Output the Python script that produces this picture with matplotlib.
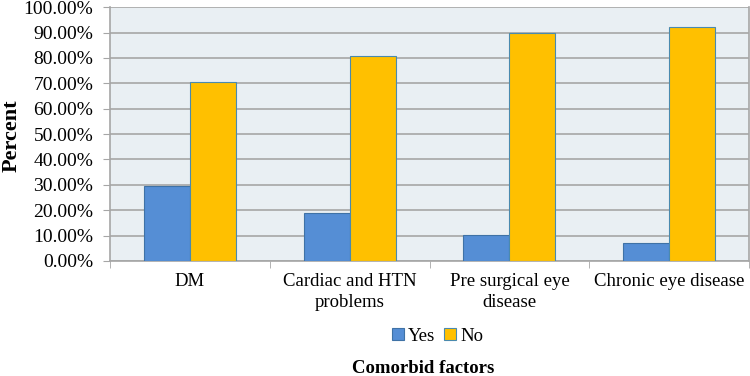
import matplotlib.pyplot as plt
import numpy as np
from matplotlib.ticker import FuncFormatter, MultipleLocator

plt.rcParams['font.family'] = ['Liberation Serif', 'DejaVu Serif']

categories = ['DM', 'Cardiac and HTN\nproblems', 'Pre surgical eye\ndisease', 'Chronic eye disease']
yes_pct = [29.6, 19.0, 10.2, 7.0]
no_pct = [70.4, 80.9, 89.7, 92.1]

fig = plt.figure(figsize=(7.5, 3.76), dpi=100)
ax = fig.add_axes([0.1467, 0.306, 0.852, 0.675])
ax.set_facecolor('#E9EFF3')

x = np.arange(len(categories))
w = 0.2875
ax.bar(x - w / 2, yes_pct, w, color='#558ED5', edgecolor='#3F72A6', linewidth=0.8,
       label='Yes', zorder=3)
ax.bar(x + w / 2, no_pct, w, color='#FFC000', edgecolor='#4A8AAE', linewidth=0.8,
       label='No', zorder=3)

ax.set_xlim(-0.5, len(categories) - 0.5)
ax.set_ylim(0, 100)
ax.yaxis.set_major_locator(MultipleLocator(10))
ax.yaxis.set_major_formatter(FuncFormatter(lambda v, p: f'{v:.2f}%'))
ax.grid(axis='y', color='#A6A6A6', linewidth=1.2, zorder=0)

# category labels centred, ticks on category boundaries
ax.set_xticks(x)
ax.set_xticklabels(categories, fontsize=13.5, linespacing=1.3)
ax.tick_params(axis='x', length=0, pad=9)
ax.set_xticks(np.arange(len(categories) + 1) - 0.5, minor=True)
ax.tick_params(axis='x', which='minor', length=5, color='#A6A6A6')
ax.tick_params(axis='y', labelsize=14, length=5, color='#A6A6A6', pad=7)

ax.spines['top'].set_visible(False)
for s in ['left', 'bottom', 'right']:
    ax.spines[s].set_color('#A6A6A6')
    ax.spines[s].set_linewidth(1.2)

fig.text(0.015, 0.64, 'Percent', rotation=90, ha='center', va='center',
         fontsize=16, fontweight='bold')
fig.text(0.564, 0.021, 'Comorbid factors', ha='center', va='center',
         fontsize=13.5, fontweight='bold')

fig.legend(loc='center', bbox_to_anchor=(0.583, 0.106), ncol=2, frameon=False,
           fontsize=13.5, handlelength=0.65, handleheight=0.65, handletextpad=0.2,
           columnspacing=0.5)

plt.savefig('out.png', dpi=100)
